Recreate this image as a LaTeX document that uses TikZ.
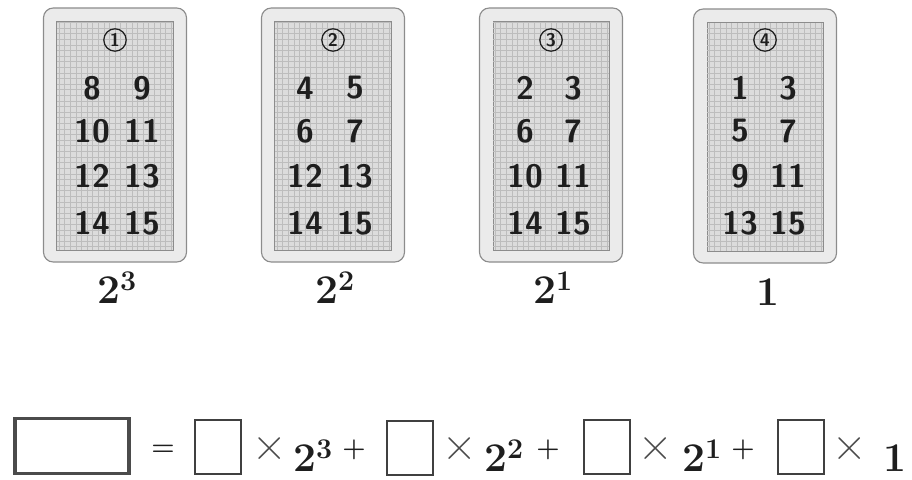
\documentclass[tikz,border=0pt]{standalone}
\usepackage{amsmath,amssymb}
\usepackage{fontspec}
\usepackage{tikz}
\usepackage{xcolor}
\usetikzlibrary{positioning,calc}
\definecolor{ink}{HTML}{1E1E1E}
\definecolor{frame}{HTML}{8C8C8C}
\definecolor{paper}{HTML}{EBEBEB}
\definecolor{face}{HTML}{DCDCDC}
\definecolor{grain}{HTML}{BDBDBD}
\tikzset{
  card/.style={draw=frame, fill=paper, rounded corners=7pt, line width=0.8pt,
               minimum width=3.575cm, minimum height=6.35cm, inner sep=0pt},
  cardface/.style={draw=frame, fill=face, line width=0.7pt,
                   minimum width=2.9cm, minimum height=5.7cm, inner sep=0pt},
  num/.style={font=\fontsize{23}{23}\selectfont\sffamily\bfseries, text=ink, inner sep=0pt},
  tag/.style={draw=ink, circle, line width=0.9pt, inner sep=0pt, minimum size=0.56cm,
              font=\fontsize{13}{13}\selectfont\sffamily\bfseries, text=ink},
  power/.style={font=\fontsize{29}{29}\selectfont\bfseries, text=ink, anchor=base, inner sep=0pt},
  op/.style={font=\fontsize{19}{19}\selectfont\bfseries, text=ink, inner sep=0pt},
  times/.style={font=\fontsize{34}{34}\selectfont, text=ink!80, inner sep=0pt},
  blank/.style={draw=ink!85, line width=0.9pt, minimum width=1.15cm,
                minimum height=1.35cm, inner sep=0pt},
  answer/.style={draw=ink!80, line width=2.4pt, minimum width=2.85cm,
                 minimum height=1.38cm, inner sep=0pt}
}

\begin{document}
\begin{tikzpicture}[x=0.025cm,y=-0.025cm]
    \useasboundingbox (0,0) rectangle (912,479);

    % Card 1
    \begin{scope}[shift={(115,0)}]
      \node[card] (card1) at (0,135) {};
      \node[cardface] (face1) at (0,136) {};
      \draw[grain, line width=0.2pt, step=0.14cm] (-58,22) grid (58,250);
      \node[tag] (tag1) at (0,40) {1};
      \node[num] (k1n8) at (-23,88) {8};    \node[num] (k1n9) at (27,88) {9};
      \node[num] (k1n10) at (-23,131) {10}; \node[num] (k1n11) at (27,131) {11};
      \node[num] (k1n12) at (-23,176) {12}; \node[num] (k1n13) at (27,176) {13};
      \node[num] (k1n14) at (-23,223) {14}; \node[num] (k1n15) at (27,223) {15};
      \node[power] (pow1) at (2,303) {2\textsuperscript{3}};
    \end{scope}

    % Card 2
    \begin{scope}[shift={(333,0)}]
      \node[card] (card2) at (0,135) {};
      \node[cardface] (face2) at (0,136) {};
      \draw[grain, line width=0.2pt, step=0.14cm] (-58,22) grid (58,250);
      \node[tag] (tag2) at (0,40) {2};
      \node[num] (k2n4) at (-28,88) {4};    \node[num] (k2n5) at (22,88) {5};
      \node[num] (k2n6) at (-28,131) {6};   \node[num] (k2n7) at (22,131) {7};
      \node[num] (k2n12) at (-28,176) {12}; \node[num] (k2n13) at (22,176) {13};
      \node[num] (k2n14) at (-28,223) {14}; \node[num] (k2n15) at (22,223) {15};
      \node[power] (pow2) at (2,303) {2\textsuperscript{2}};
    \end{scope}

    % Card 3
    \begin{scope}[shift={(551,0)}]
      \node[card] (card3) at (0,135) {};
      \node[cardface] (face3) at (0,136) {};
      \draw[grain, line width=0.2pt, step=0.14cm] (-58,22) grid (58,250);
      \node[tag] (tag3) at (0,40) {3};
      \node[num] (k3n2) at (-26,88) {2};    \node[num] (k3n3) at (22,88) {3};
      \node[num] (k3n6) at (-26,131) {6};   \node[num] (k3n7) at (22,131) {7};
      \node[num] (k3n10) at (-26,176) {10}; \node[num] (k3n11) at (22,176) {11};
      \node[num] (k3n14) at (-26,223) {14}; \node[num] (k3n15) at (22,223) {15};
      \node[power] (pow3) at (2,303) {2\textsuperscript{1}};
    \end{scope}

    % Card 4
    \begin{scope}[shift={(765,0)}]
      \node[card] (card4) at (0,136) {};
      \node[cardface] (face4) at (0,137) {};
      \draw[grain, line width=0.2pt, step=0.14cm] (-58,23) grid (58,251);
      \node[tag] (tag4) at (0,40) {4};
      \node[num] (k4n1) at (-25,88) {1};    \node[num] (k4n3) at (23,88) {3};
      \node[num] (k4n5) at (-25,131) {5};   \node[num] (k4n7) at (23,131) {7};
      \node[num] (k4n9) at (-25,176) {9};   \node[num] (k4n11) at (23,176) {11};
      \node[num] (k4n13) at (-25,223) {13}; \node[num] (k4n15) at (23,223) {15};
      \node[power] (pow4) at (3,305) {1};
    \end{scope}

    % Equation
    \node[answer] (total) at (72,446) {};
    \node[op] (eq) at (163,450) {=};
    \node[blank] (bit3) at (218,447) {};
    \node[times] (x3) at (270,449) {×};
    \node[power] (w3) at (313,471) {2\textsuperscript{3}};
    \node[op] (p3) at (354,450) {+};
    \node[blank] (bit2) at (410,448) {};
    \node[times] (x2) at (460,449) {×};
    \node[power] (w2) at (504,471) {2\textsuperscript{2}};
    \node[op] (p2) at (548,450) {+};
    \node[blank] (bit1) at (607,447) {};
    \node[times] (x1) at (656,449) {×};
    \node[power] (w1) at (702,471) {2\textsuperscript{1}};
    \node[op] (p1) at (743,450) {+};
    \node[blank] (bit0) at (801,447) {};
    \node[times] (x0) at (850,449) {×};
    \node[power] (w0) at (895,471) {1};
  \end{tikzpicture}
\end{document}
